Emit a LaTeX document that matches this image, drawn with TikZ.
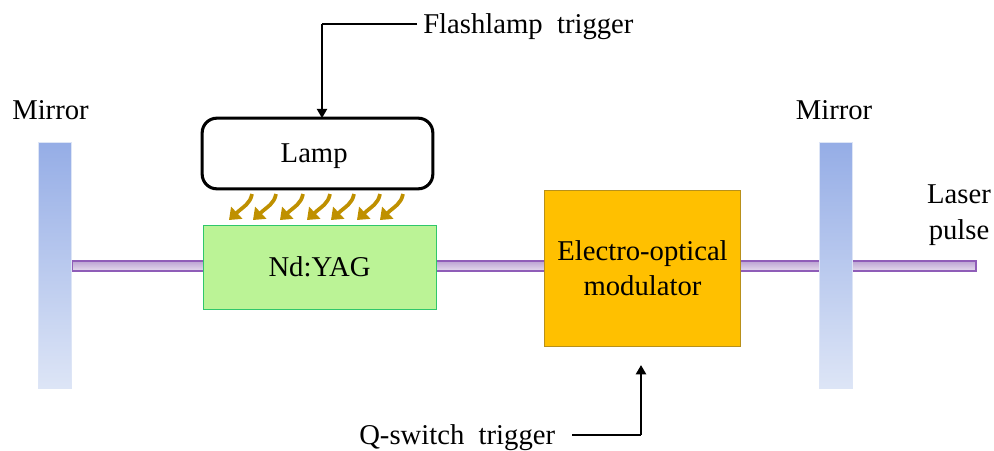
\documentclass[tikz,border=0pt]{standalone}
\usepackage{fontspec}
\setmainfont{Liberation Serif}
\usetikzlibrary{arrows.meta,positioning}
\definecolor{mirtop}{HTML}{95ADE6}
\definecolor{mirbot}{HTML}{DDE5F6}
\definecolor{beamedge}{HTML}{8F5DB8}
\definecolor{beamlight}{HTML}{E6DCEF}
\definecolor{beamdark}{HTML}{BBA3D2}
\definecolor{yag}{HTML}{BBF396}
\definecolor{yagedge}{HTML}{2FC76B}
\definecolor{eom}{HTML}{FFC000}
\definecolor{eomedge}{HTML}{B8901A}
\definecolor{glow}{HTML}{BF9000}
\tikzset{
  px/.style={x=0.75pt,y=-0.75pt},
  lbl/.style={font=\fontsize{21.5}{25}\selectfont,inner sep=0pt,align=center,text=black},
  mirrorbar/.style={top color=mirtop,bottom color=mirbot,draw=mirbot,line width=0.6pt,minimum width=24.75pt,minimum height=184.5pt,inner sep=0pt,outer sep=0pt},
  beambar/.style={top color=beamdark,bottom color=beamlight,draw=beamedge,line width=0.9pt,minimum height=7.5pt,minimum width=678pt,inner sep=0pt,outer sep=0pt},
  crystal/.style={fill=yag,draw=yagedge,line width=0.7pt,minimum width=174.75pt,minimum height=63pt,inner sep=0pt,outer sep=0pt},
  modulator/.style={fill=eom,draw=eomedge,line width=0.7pt,minimum width=147pt,minimum height=117pt,inner sep=0pt,outer sep=0pt},
  lampbox/.style={fill=white,draw=black,line width=2.3pt,rounded corners=11pt,minimum width=173pt,minimum height=53pt,inner sep=0pt,outer sep=0pt},
  trigline/.style={draw=black,line width=1.9pt},
  trig/.style={draw=black,line width=1.9pt,-{Triangle[length=7pt,width=7.5pt]}},
  ray/.style={draw=glow,line width=2.8pt,-{Triangle[length=8pt,width=12pt]}},
}
\begin{document}
\begin{tikzpicture}[px]
\useasboundingbox (0,0) rectangle (994,450);
\node[beambar] (beam) at (524,266) {};
\node[mirrorbar] (ml) at (55,265) {};
\node[mirrorbar] (mr) at (836,265) {};
\node[crystal,lbl] (yag) at (319.5,267) {\raisebox{-7pt}[0pt][0pt]{Nd:YAG}};
\node[modulator,lbl] (eom) at (642.5,268) {Electro-optical\\[1.5pt]modulator};
\node[lampbox,lbl] (lamp) at (317.5,153.5) {\hspace{-5pt}\raisebox{-7pt}[0pt][0pt]{Lamp}};
\node[lbl] (t1) at (50.5,110) {Mirror};
\node[lbl] (t2) at (834,110) {Mirror};
\node[lbl] (t3) at (959,215.5) {Laser\\[2pt]pulse};
\node[lbl,anchor=west] (ft) at (423,26.5) {Flashlamp\hspace{0.25em} trigger};
\node[lbl,anchor=west] (qt) at (359,437.5) {Q-switch\hspace{0.25em} trigger};
\coordinate (fa) at (322,24);
\coordinate (qa) at (572,435);
\coordinate (qb) at (641,435);
\coordinate (qe) at (641,365);
\draw[trigline] (ft.west) ++(-6,-2.5) -- (fa);
\draw[trig] (fa) -- (lamp.north -| fa);
\draw[trigline] (qa) -- (qb);
\draw[trig] (qb) -- (qe);
\foreach \i/\x in {1/229,2/253,3/280,4/307,5/331,6/357,7/380}{
  \coordinate (s\i) at (\x+23,194);
  \coordinate (e\i) at (\x,220);
  \draw[ray] (s\i) .. controls (\x+21,204) and (\x+15,206) .. (e\i);
}
\end{tikzpicture}
\end{document}
